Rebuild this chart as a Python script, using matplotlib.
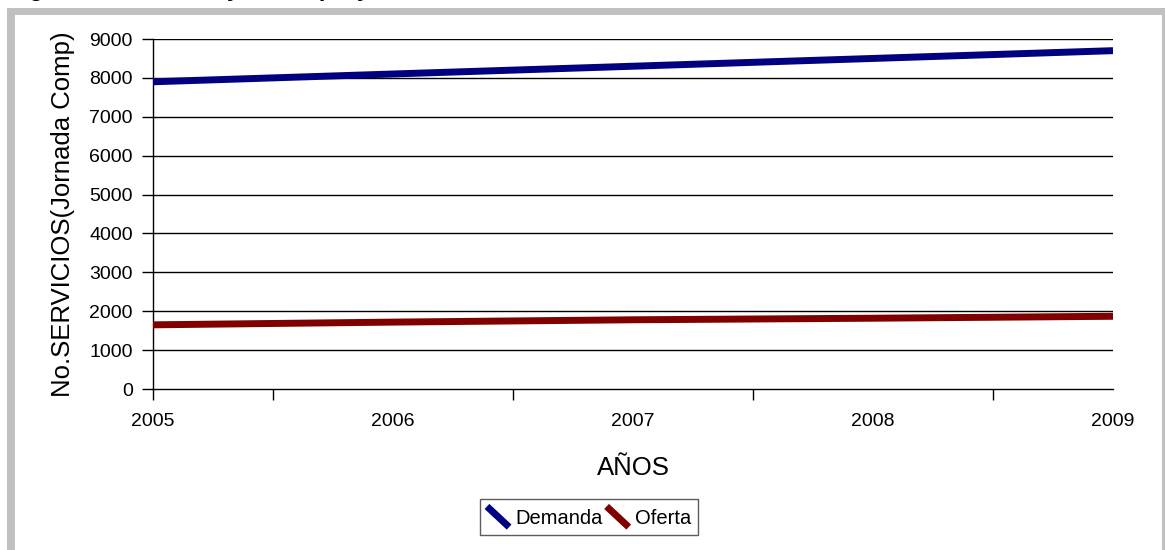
import matplotlib
matplotlib.use('Agg')
import matplotlib.pyplot as plt
from matplotlib.lines import Line2D
from matplotlib.patches import Rectangle
from matplotlib.legend_handler import HandlerBase

plt.rcParams['font.family'] = ['Liberation Sans', 'DejaVu Sans']

years = ['2005', '2006', '2007', '2008', '2009']
demanda = [7900, 8100, 8300, 8500, 8700]
oferta = [1650, 1720, 1780, 1820, 1870]
yticks = [0, 1000, 2000, 3000, 4000, 5000, 6000, 7000, 8000, 9000]


class DiagHandler(HandlerBase):
    # legend key drawn as a short diagonal stroke, like the old Excel charts
    def create_artists(self, legend, orig, xd, yd, w, h, fs, trans):
        ln = Line2D([-xd, -xd + w], [-yd + h, -yd], color=orig.get_color(),
                    lw=orig.get_linewidth(), solid_capstyle='butt', transform=trans)
        return [ln]


fig = plt.figure(figsize=(11.65, 5.5), dpi=100)

# grey frame round the chart
W, H = 1165, 550
fig.patches.append(Rectangle((7 / W, 0), 1.1, 1 - 8 / H, transform=fig.transFigure,
                             facecolor='#c0c0c0', edgecolor='none', zorder=-2))
fig.patches.append(Rectangle((15 / W, 0), (1162 - 15) / W, 1 - 15 / H, transform=fig.transFigure,
                             facecolor='white', edgecolor='none', zorder=-1))

# clipped title at the top of the page
fig.text(8 / W, 1 + 4 / H, 'Figura 7. Demanda y oferta proyectada', fontsize=17,
         fontweight='bold', va='baseline', ha='left')

ax = fig.add_axes([153 / W, 1 - 389 / H, (1113 - 153) / W, 350 / H])
ax.set_facecolor('none')

x = list(range(len(years)))
ax.plot(x, demanda, color='#000080', lw=5, label='Demanda', solid_capstyle='butt', zorder=3)
ax.plot(x, oferta, color='#800000', lw=5, label='Oferta', solid_capstyle='butt', zorder=3)

ax.set_xlim(0, 4)
ax.set_ylim(0, 9000)
ax.set_yticks(yticks)
for v in yticks[1:]:
    ax.axhline(v, color='black', lw=1, zorder=1)

ax.xaxis.remove_overlapping_locs = False
ax.set_xticks([0, 0.5, 1.5, 2.5, 3.5])
ax.set_xticklabels([])
ax.set_xticks(x, minor=True)
ax.set_xticklabels(years, minor=True)
ax.tick_params(axis='x', which='major', length=8, width=1, direction='out')
ax.tick_params(axis='x', which='minor', length=0, pad=17, labelsize=14)
ax.tick_params(axis='y', length=8, width=1, direction='out', pad=6.5, labelsize=14)

for s in ['top', 'right']:
    ax.spines[s].set_visible(False)
for s in ['left', 'bottom']:
    ax.spines[s].set_linewidth(1)
    ax.spines[s].set_color('black')

ax.set_ylabel('No.SERVICIOS(Jornada Comp)', fontsize=18.5, labelpad=10)
ax.set_xlabel('AÑOS', fontsize=18.5, labelpad=19)

leg = ax.legend(handler_map={Line2D: DiagHandler()}, loc='center',
                bbox_to_anchor=(589 / W, 1 - 517 / H), bbox_transform=fig.transFigure,
                ncol=2, frameon=True, fancybox=False, fontsize=14.5,
                handlelength=1.1, handleheight=1.2, handletextpad=0.3,
                columnspacing=0.2, borderpad=0.35, borderaxespad=0)
leg.get_frame().set_edgecolor('#333333')
leg.get_frame().set_linewidth(1)

fig.savefig('out.png', dpi=100)
